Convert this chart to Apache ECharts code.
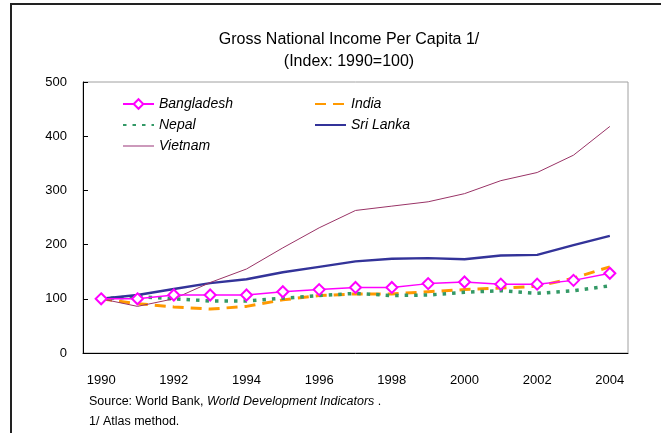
<!DOCTYPE html>
<html>
<head>
<meta charset="utf-8">
<script src="https://cdn.jsdelivr.net/npm/echarts@6/dist/echarts.min.js"></script>
<style>
  html, body { margin: 0; padding: 0; background: #fff; }
  #chart { width: 661px; height: 433px; }
</style>
</head>
<body>
<div id="chart"></div>
<script>
var years = ["1990", "1991", "1992", "1993", "1994", "1995", "1996", "1997",
  "1998", "1999", "2000", "2001", "2002", "2003", "2004"];
var bangladesh = [100, 100, 107, 107, 107, 113, 117, 121, 121, 128, 131, 127, 127, 134, 147];
var india = [100, 91, 85, 81, 86, 98, 106, 109, 109, 113, 117, 120, 123, 138, 159];
var nepal = [100, 104, 100, 96, 96, 101, 106, 110, 106, 107, 112, 115, 110, 115, 124];
var sriLanka = [100, 107, 118, 129, 136, 149, 159, 169, 174, 175, 173, 180, 181, 199, 216];
var vietnam = [100, 86, 100, 130, 155, 194, 231, 263, 271, 279, 294, 318, 333, 365, 418];

var font = "Liberation Sans, Arial, sans-serif";
var lineOnly = { opacity: 0 };
var chart = echarts.init(document.getElementById("chart"), null, { renderer: "canvas" });

var option = {
  animation: false,
  textStyle: { fontFamily: font },
  title: {
    text: "Gross National Income Per Capita 1/\n(Index: 1990=100)",
    left: 344,
    textAlign: "center",
    top: 24,
    textStyle: { fontSize: 16, fontWeight: "normal", color: "#000", lineHeight: 22, fontFamily: font }
  },
  legend: [
    {
      data: [
        "Bangladesh",
        { name: "Nepal", itemStyle: lineOnly },
        { name: "Vietnam", itemStyle: lineOnly, lineStyle: { color: "#cc99bb", width: 2 } }
      ],
      orient: "vertical",
      left: 117, top: 92,
      itemWidth: 31, itemHeight: 12, itemGap: 7,
      textStyle: { fontSize: 14, fontStyle: "italic", color: "#000", fontFamily: font }
    },
    {
      data: [{ name: "India", itemStyle: lineOnly }, { name: "Sri Lanka", itemStyle: lineOnly }],
      orient: "vertical",
      left: 309, top: 92,
      itemWidth: 31, itemHeight: 12, itemGap: 7,
      textStyle: { fontSize: 14, fontStyle: "italic", color: "#000", fontFamily: font }
    }
  ],
  grid: {
    left: 83, right: 33, top: 82, bottom: 80,
    show: true, borderColor: "#a0a0a0", borderWidth: 1, backgroundColor: "transparent"
  },
  xAxis: {
    type: "category",
    data: years,
    boundaryGap: true,
    axisLine: { lineStyle: { color: "#000", width: 1 } },
    axisTick: { inside: true, length: 5, interval: 0, lineStyle: { color: "#000" } },
    axisLabel: { interval: 1, margin: 21, fontSize: 13, color: "#000", fontFamily: font },
    splitLine: { show: false }
  },
  yAxis: {
    type: "value",
    min: 0, max: 500, interval: 100,
    axisLine: { show: true, lineStyle: { color: "#000", width: 1 } },
    axisTick: { show: true, inside: true, length: 5, lineStyle: { color: "#000" } },
    axisLabel: { margin: 16, fontSize: 13, color: "#000", fontFamily: font },
    splitLine: { show: false }
  },
  series: [
    {
      name: "Bangladesh", type: "line", data: bangladesh,
      symbol: "emptyDiamond", symbolSize: 11, showAllSymbol: true,
      lineStyle: { color: "#ff00ff", width: 1.5 },
      itemStyle: { color: "#ff00ff", borderColor: "#ff00ff", borderWidth: 1.2 },
      z: 5
    },
    {
      name: "India", type: "line", data: india, symbol: "circle", showSymbol: false,
      lineStyle: { color: "#ff9900", width: 3, type: [11, 7] },
      itemStyle: { color: "#ff9900" }
    },
    {
      name: "Nepal", type: "line", data: nepal, symbol: "circle", showSymbol: false,
      lineStyle: { color: "#339966", width: 3.5, type: [3.5, 6] },
      itemStyle: { color: "#339966" }
    },
    {
      name: "Sri Lanka", type: "line", data: sriLanka, symbol: "circle", showSymbol: false,
      lineStyle: { color: "#333399", width: 2.4 },
      itemStyle: { color: "#333399" }
    },
    {
      name: "Vietnam", type: "line", data: vietnam, symbol: "circle", showSymbol: false,
      lineStyle: { color: "#993366", width: 1 },
      itemStyle: { color: "#cc99bb" }
    }
  ],
  graphic: [
    {
      type: "polyline",
      shape: { points: [[11, 433], [11, 4], [661, 4]] },
      style: { stroke: "#222", lineWidth: 2, fill: null }
    },
    {
      type: "text", left: 89, top: 395,
      style: {
        text: "{n|Source: World Bank, }{i|World Development Indicators}{n| .}",
        rich: {
          n: { fontSize: 12.5, fontFamily: font, fill: "#000" },
          i: { fontSize: 12.5, fontFamily: font, fontStyle: "italic", fill: "#000" }
        }
      }
    },
    {
      type: "text", left: 89, top: 415,
      style: { text: "1/ Atlas method.", fontSize: 12.5, fontFamily: font, fill: "#000" }
    }
  ]
};

chart.setOption(option);
window.addEventListener("resize", chart.resize);
</script>
</body>
</html>
